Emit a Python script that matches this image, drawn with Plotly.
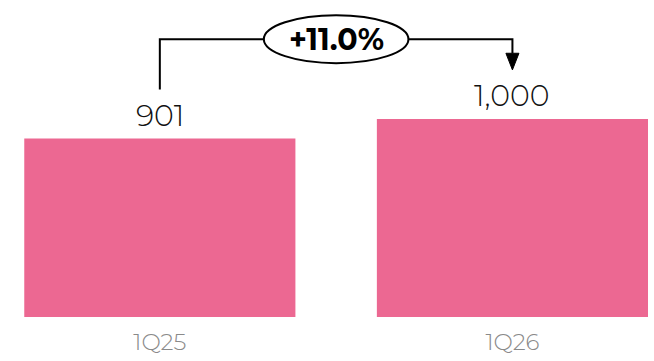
import plotly.graph_objects as go

# Quarterly totals
quarters = ["1Q25", "1Q26"]
values = [901, 1000]
change_label = "+11.0%"

BAR_COLOR = "#EC6892"
FONT = "Montserrat, Lato, 'Noto Sans', sans-serif"

fig = go.Figure(
    go.Bar(
        x=[0, 1],
        y=values,
        width=0.769,
        marker=dict(color=BAR_COLOR, line=dict(width=0)),
        hoverinfo="skip",
    )
)

# Bracket geometry derived from the values
gap = 248  # clearance above each bar for bracket ends
level = max(values) * 1.403  # height of the horizontal connector
ell_w, ell_h = 0.205, 121  # ellipse half-width (x units) and half-height (y units)
head_h, head_w = 84, 0.0185

start_y = values[0] + gap
tip_y = values[1] + gap
line = dict(color="black", width=2)

shapes = [
    # left leg and run into the ellipse
    dict(type="path", xref="x", yref="y", line=line,
         path=f"M 0,{start_y} L 0,{level} L {0.5 - ell_w},{level}"),
    # run out of the ellipse and down toward the second bar
    dict(type="path", xref="x", yref="y", line=line,
         path=f"M {0.5 + ell_w},{level} L 1,{level} L 1,{tip_y + head_h}"),
    # arrow head
    dict(type="path", xref="x", yref="y", line=dict(color="black", width=1),
         fillcolor="black",
         path=f"M {1 - head_w},{tip_y + head_h} L {1 + head_w},{tip_y + head_h} L 1,{tip_y} Z"),
    # ellipse around the change label
    dict(type="circle", xref="x", yref="y", line=line, fillcolor="white",
         x0=0.5 - ell_w, x1=0.5 + ell_w, y0=level - ell_h, y1=level + ell_h),
]

annotations = [
    dict(x=0.5, y=level, xref="x", yref="y", text=f"<b>{change_label}</b>",
         showarrow=False, font=dict(family=FONT, size=30, color="black"),
         xanchor="center", yanchor="middle"),
]
label_tops = [start_y, tip_y]
for i, v in enumerate(values):
    annotations.append(
        dict(x=i, y=label_tops[i], xref="x", yref="y", text=f"{v:,}",
             showarrow=False, yanchor="top", yshift=-5,
             font=dict(family=FONT, size=30, color="#111111", weight=300))
    )

fig.update_layout(
    width=654,
    height=361,
    margin=dict(l=0, r=0, t=0, b=44),
    paper_bgcolor="white",
    plot_bgcolor="white",
    showlegend=False,
    shapes=shapes,
    annotations=annotations,
    xaxis=dict(
        range=[-0.4533, 1.4015],
        tickmode="array",
        tickvals=[0, 1],
        ticktext=quarters,
        showgrid=False,
        zeroline=False,
        showline=False,
        ticks="",
        ticklabelstandoff=9,
        tickfont=dict(family=FONT, size=23, color="#8A8A8A", weight=300),
        fixedrange=True,
    ),
    yaxis=dict(
        range=[0, 1601],
        visible=False,
        fixedrange=True,
    ),
)

fig.write_html("out.html")
